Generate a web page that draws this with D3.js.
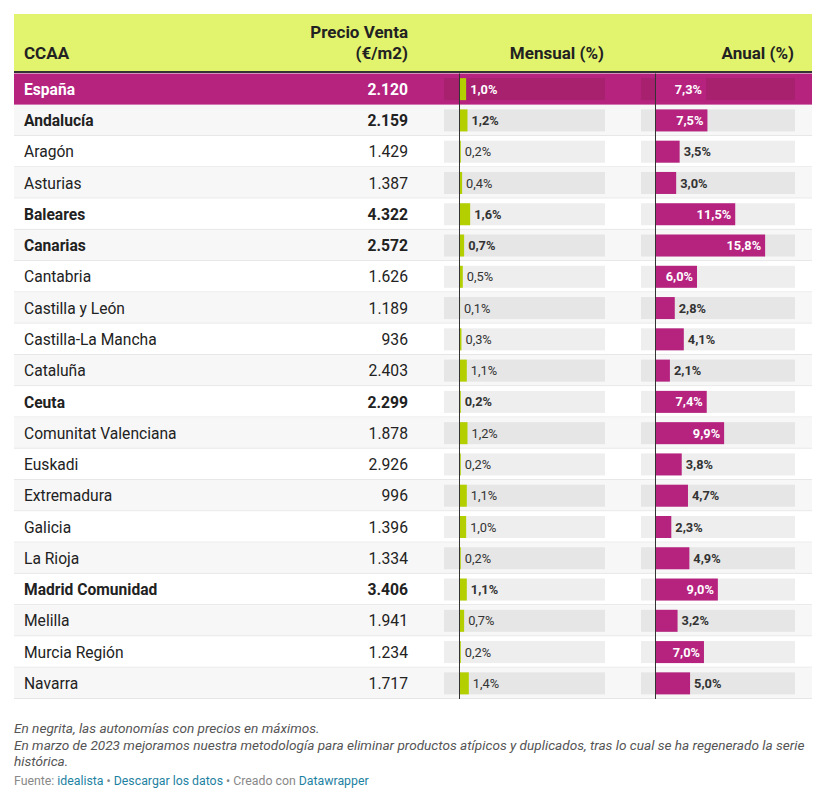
<!DOCTYPE html>
<html><head><meta charset="utf-8">
<script src="https://cdn.jsdelivr.net/npm/d3@7"></script>
<style>
body{margin:0;background:#fff;font-family:Roboto,"Noto Sans",sans-serif;}
svg text{font-family:Roboto,"Noto Sans",sans-serif;}
</style></head><body>
<svg id="chart" width="823" height="807"></svg>
<script>
const regions = ["España","Andalucía","Aragón","Asturias","Baleares","Canarias","Cantabria","Castilla y León","Castilla-La Mancha","Cataluña","Ceuta","Comunitat Valenciana","Euskadi","Extremadura","Galicia","La Rioja","Madrid Comunidad","Melilla","Murcia Región","Navarra"];
const prices = [2120,2159,1429,1387,4322,2572,1626,1189,936,2403,2299,1878,2926,996,1396,1334,3406,1941,1234,1717];
const monthly = [1.0,1.2,0.2,0.4,1.6,0.7,0.5,0.1,0.3,1.1,0.2,1.2,0.2,1.1,1.0,0.2,1.1,0.7,0.2,1.4];
const annual = [7.3,7.5,3.5,3.0,11.5,15.8,6.0,2.8,4.1,2.1,7.4,9.9,3.8,4.7,2.3,4.9,9.0,3.2,7.0,5.0];
const boldRows = ["España","Andalucía","Baleares","Canarias","Ceuta","Madrid Comunidad"];
const headers = ["CCAA","Precio Venta|(€/m2)","Mensual (%)","Anual (%)"];

const svg = d3.select("#chart");
const L = 14, R = 812, headTop = 14, headBot = 71.5, rowsTop = 73.5, rowsBot = 699;
const MAG = "#b5237f", GREEN_H = "#e2f46e", LIME = "#b3cf00";
const fmtP = v => d3.format(",")(v).replace(/,/g,".");
const fmtPct = v => d3.format(".1f")(v).replace(".",",") + "%";

const data = regions.map((r,i)=>({r, p:prices[i], m:monthly[i], a:annual[i], bold: boldRows.includes(r), es: i===0}));

const y = d3.scaleBand().domain(regions).range([rowsTop, rowsBot]).padding(0);
const xM = d3.scaleLinear().domain([-2.3, 21.7]).range([444, 605]);
const xA = d3.scaleLinear().domain([-2.06, 20.1]).range([641, 795]);

// header
svg.append("rect").attr("x",L).attr("y",headTop).attr("width",R-L).attr("height",headBot-headTop).attr("fill",GREEN_H);
svg.append("rect").attr("x",L).attr("y",headBot-0.5).attr("width",R-L).attr("height",2).attr("fill","#333");
const hStyle = s => s.attr("font-size",17).attr("font-weight","bold").attr("fill","#222");
svg.append("text").attr("x",24).attr("y",59).text(headers[0]).call(hStyle);
const pv = headers[1].split("|");
svg.append("text").attr("x",408).attr("y",38).attr("text-anchor","end").text(pv[0]).call(hStyle);
svg.append("text").attr("x",408).attr("y",59).attr("text-anchor","end").text(pv[1]).call(hStyle);
svg.append("text").attr("x",604).attr("y",59).attr("text-anchor","end").text(headers[2]).call(hStyle);
svg.append("text").attr("x",794).attr("y",59).attr("text-anchor","end").text(headers[3]).call(hStyle);

// rows
const rows = svg.selectAll("g.row").data(data).join("g").attr("class","row")
  .attr("transform", d=>`translate(0,${y(d.r)})`);
const bh = y.bandwidth();
rows.append("rect").attr("x",L).attr("y",0).attr("width",R-L).attr("height",bh)
  .attr("fill",(d,i)=> d.es ? MAG : (i%2===1 ? "#f7f7f7" : "#ffffff"));
rows.filter(d=>!d.es).append("rect").attr("x",L).attr("y",bh-1).attr("width",R-L).attr("height",1).attr("fill","#e6e6e6");

const textFill = d => d.es ? "#fff" : "#222";
const cy = bh/2;
rows.append("text").attr("x",24).attr("y",cy).attr("dy","0.36em").attr("font-size",15.6)
  .attr("font-weight",d=>d.bold?"bold":"normal").attr("fill",textFill).text(d=>d.r);
rows.append("text").attr("x",408).attr("y",cy).attr("dy","0.36em").attr("font-size",15.7).attr("text-anchor","end")
  .attr("font-weight",d=>d.bold?"bold":"normal").attr("fill",textFill).text(d=>fmtP(d.p));

const bgH = 22, bgY = cy - bgH/2;
const bgFill = (d,i) => d.es ? "#a7216f" : (i%2===1 ? "#e6e6e6" : "#eeeeee");
// monthly
rows.append("rect").attr("x",xM.range()[0]).attr("y",bgY).attr("width",xM.range()[1]-xM.range()[0]).attr("height",bgH).attr("fill",bgFill);
rows.append("rect").attr("x",xM(0)).attr("y",bgY).attr("width",d=>xM(d.m)-xM(0)).attr("height",bgH).attr("fill",LIME);
rows.append("text").attr("x",d=>xM(d.m)+4).attr("y",cy).attr("dy","0.36em").attr("font-size",12.8)
  .attr("font-weight",d=>d.bold?"bold":"normal").attr("fill",d=>d.es?"#fff":"#333").text(d=>fmtPct(d.m));
// annual
rows.append("rect").attr("x",xA.range()[0]).attr("y",bgY).attr("width",xA.range()[1]-xA.range()[0]).attr("height",bgH).attr("fill",bgFill);
rows.append("rect").attr("x",xA(0)).attr("y",bgY).attr("width",d=>xA(d.a)-xA(0)).attr("height",bgH).attr("fill",MAG);
rows.append("text")
  .attr("x",d=> (xA(d.a)-xA(0))>40 ? xA(d.a)-4 : xA(d.a)+4)
  .attr("text-anchor",d=> (xA(d.a)-xA(0))>40 ? "end" : "start")
  .attr("y",cy).attr("dy","0.36em").attr("font-size",12.8).attr("font-weight","bold")
  .attr("fill",d=> (xA(d.a)-xA(0))>40 ? "#fff" : "#333").text(d=>fmtPct(d.a));

// zero lines
[xM, xA].forEach(x=>{
  svg.append("line").attr("x1",Math.round(x(0))+0.5).attr("x2",Math.round(x(0))+0.5)
    .attr("y1",rowsTop).attr("y2",rowsBot).attr("stroke","#333").attr("stroke-width",1);
});

// footer notes
const notes = ["En negrita, las autonomías con precios en máximos.",
 "En marzo de 2023 mejoramos nuestra metodología para eliminar productos atípicos y duplicados, tras lo cual se ha regenerado la serie",
 "histórica."];
svg.selectAll("text.note").data(notes).join("text").attr("class","note")
  .attr("x",14).attr("y",(d,i)=>733+i*16.5).attr("font-size",13.6).attr("font-style","italic").attr("fill","#555").text(d=>d);

const src = svg.append("text").attr("x",14).attr("y",785).attr("font-size",12.3).attr("fill","#888");
src.append("tspan").text("Fuente: ");
src.append("tspan").attr("fill","#1d81a2").text("idealista");
src.append("tspan").text(" • ");
src.append("tspan").attr("fill","#1d81a2").text("Descargar los datos");
src.append("tspan").text(" • Creado con ");
src.append("tspan").attr("fill","#1d81a2").text("Datawrapper");
</script></body></html>
